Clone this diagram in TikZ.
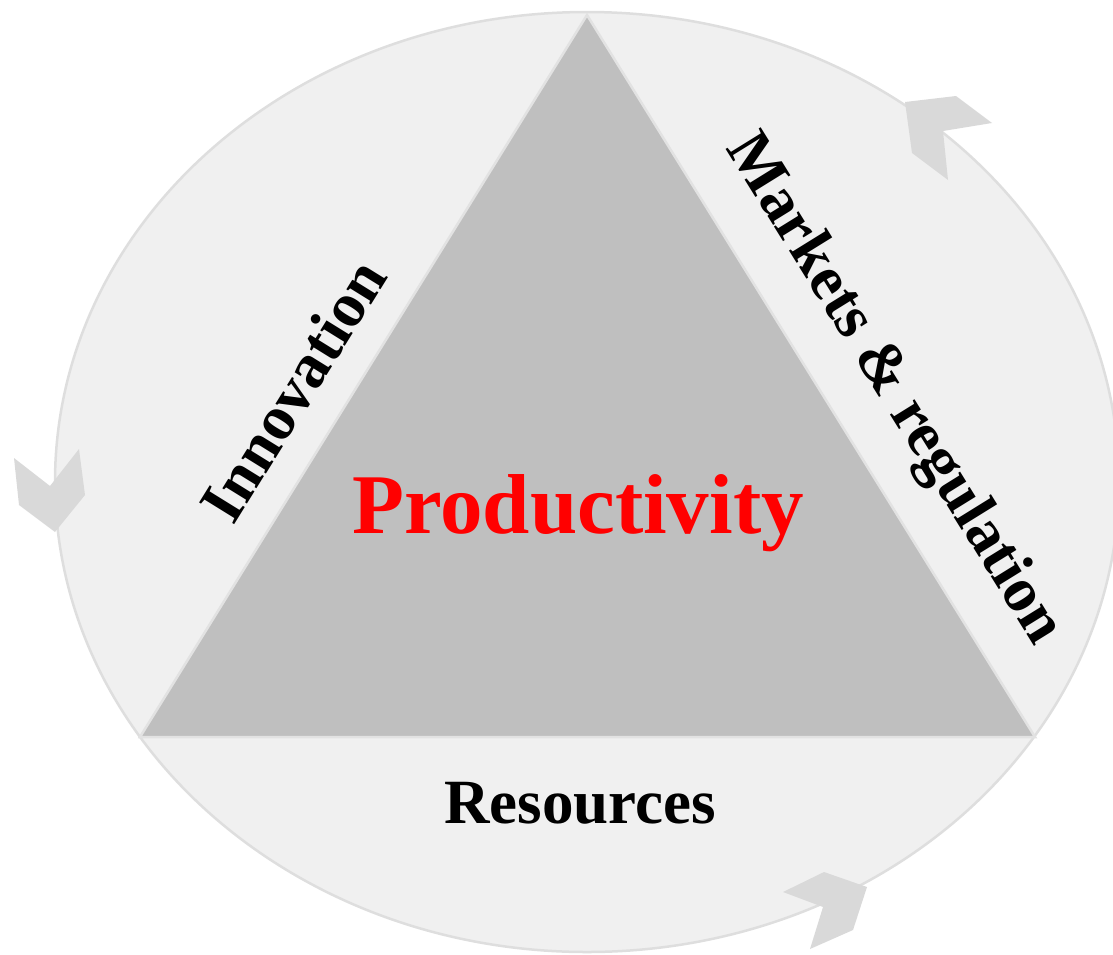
\documentclass[tikz,border=0pt]{standalone}
\usepackage{fontspec}
\setmainfont{Liberation Serif}
\definecolor{ringfill}{HTML}{F0F0F0}
\definecolor{ringline}{HTML}{DEDEDE}
\definecolor{trifill}{HTML}{BFBFBF}
\definecolor{triline}{HTML}{E2E2E2}
\definecolor{chev}{HTML}{D9D9D9}
\begin{document}
\begin{tikzpicture}[x=1pt,y=-1pt,
  ring/.style={fill=ringfill,draw=ringline,line width=2.5pt},
  tri/.style={fill=trifill,draw=triline,line width=2.5pt,line join=miter},
  chevron/.style={fill=chev,draw=none},
  side/.style={font=\bfseries\fontsize{63}{70}\selectfont,text=black,inner sep=0pt},
  core/.style={font=\bfseries\fontsize{85}{90}\selectfont,text=red,inner sep=0pt}]
\useasboundingbox (0,0) rectangle (1113,954);
% outer cycle
\draw[ring] (587,482) ellipse [x radius=532, y radius=470];
% central triangle
\coordinate (apex) at (587,15);
\coordinate (bl) at (140,737);
\coordinate (br) at (1035,737);
\draw[tri] (apex) -- (bl) -- (br) -- cycle;
% chevrons along the cycle
\fill[chevron] (905,102) -- (956,96) -- (992,123) -- (943,131) -- (948,180) -- (912,153) -- cycle;
\fill[chevron] (14,458) -- (50,486) -- (79,449) -- (85,495) -- (55,532) -- (19,505) -- cycle;
\fill[chevron] (783,892) -- (824,872) -- (867,887) -- (853,930) -- (810,949) -- (823,907) -- cycle;
% labels
\node[core] (prod) at (578,513) {Productivity};
\node[side] (res) at (580,803) {Resources};
\node[side,rotate=58.2] (inn) at (293,390) {Innovation};
\node[side,rotate=-58.2] (mkt) at (893,390) {Markets \& regulation};
\end{tikzpicture}
\end{document}
